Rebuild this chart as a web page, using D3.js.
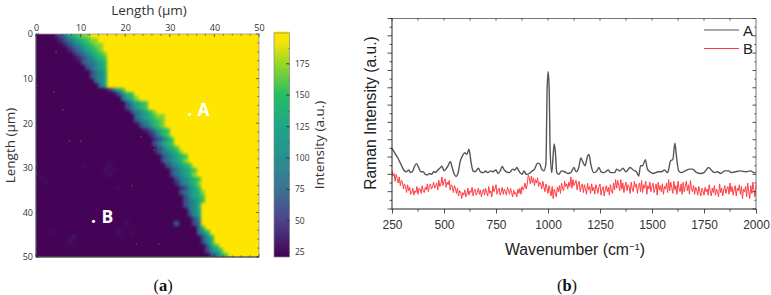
<!DOCTYPE html>
<html><head><meta charset="utf-8">
<script src="https://cdnjs.cloudflare.com/ajax/libs/d3/7.8.5/d3.min.js"></script>
<style>html,body{margin:0;padding:0;background:#fff;overflow:hidden}svg{display:block}</style>
</head><body><div id="chart"></div>
<script>
// ---------- Panel (a): map data, each row = [purple cells before the band, band codes]; yellow follows
const mapRows = [
[4,"12356788"],[5,"123456788"],[6,"123456788"],[7,"12345678"],[8,"12345678"],
[9,"1234567"],[10,"233456"],[11,"23456"],[12,"2345"],[12,"2345"],
[13,"345"],[14,"35"],[16,"1357"],[18,"2467"],[19,"3568"],
[20,"24567"],[20,"23567"],[21,"234568"],[22,"3456788"],[22,"2345678"],
[23,"234678"],[24,"123567"],[25,"12467"],[26,"12357"],[26,"23567"],
[27,"23567"],[27,"234568"],[28,"234567"],[28,"234568"],[29,"234567"],
[30,"234567"],[30,"234568"],[31,"234567"],[31,"134568"],[32,"12457"],
[32,"234568"],[33,"24567"],[33,"23457"],[33,"2346"],[34,"345"],
[34,"245"],[35,"24"],[35,"23"],[36,"36"],[36,"346"],
[37,"246"],[37,"246"],[38,"257"],[38,"2457"],[39,"2357"]
];
const mapLevels = [22,40,60,80,100,120,140,155,170,199];
const mapMax = 199;
const faintCells = [[15,30,29],[16,29,29],[17,30,29],[16,31,29],[0,31,29],[1,32,29],[2,33,27],[19,43,27],[20,42,27],[21,44,27],[18,44,27],[19,45,27],[8,45,33],[7,46,29],[8,47,27],[3,44,27],[18,34,27],[10,29,26],[31,42,70]];
const specks = [[4.5,4],[10.5,6],[4,13],[6,17],[7.5,24],[10,24],[23.5,23],[26.5,26],[21.5,34],[22.5,47],[27.5,47]];
const mapPoints = [["A",34.4,18],["B",12.9,42]];
const lengthTicks = [0,10,20,30,40,50];
const colorTicks = [25,50,75,100,125,150,175];
const rampValues = [21,50,75,100,125,150,175,192,199];
const rampColors = ["#440154","#433a85","#2f6a8e","#1f8b8c","#1ea886","#27bd63","#9ad826","#f6e40c","#ffe600"];

// ---------- Panel (b): spectra
const seriesA = [[250,3.5],[260,3.3],[270,3.1],[280,2.9],[290,2.65],[300,2.4],[310,2.2],[320,2.15],[330,2.25],[340,2.1],[350,2.2],[358,2.45],[368,2.62],[378,2.4],[388,2.15],[400,2.15],[410,2.0],[420,1.97],[430,2.05],[440,2.0],[450,2.15],[460,2.12],[470,2.25],[480,2.35],[490,2.47],[500,2.2],[510,2.32],[520,2.5],[530,2.75],[538,2.45],[548,2.05],[558,1.88],[568,2.1],[578,2.75],[590,3.1],[600,3.25],[610,3.15],[620,3.45],[630,2.7],[640,2.2],[650,2.15],[665,2.35],[675,2.15],[690,2.1],[700,2.2],[710,2.1],[725,2.2],[735,2.15],[750,2.25],[760,2.05],[770,2.2],[780,2.45],[790,2.25],[800,2.15],[815,2.1],[830,2.3],[840,2.25],[850,2.4],[860,2.2],[875,2.0],[885,2.2],[895,2.0],[910,2.05],[925,2.2],[935,2.3],[950,2.65],[960,2.6],[970,2.3],[980,2.2],[990,2.6],[996,7.0],[1001,7.93],[1006,6.8],[1010,3.5],[1018,2.1],[1024,3.0],[1030,3.75],[1036,3.2],[1042,2.1],[1052,2.0],[1065,2.2],[1080,2.15],[1095,2.05],[1110,2.1],[1125,2.4],[1135,2.15],[1148,2.4],[1158,2.95],[1168,2.7],[1178,2.5],[1190,3.05],[1197,3.15],[1207,2.5],[1220,2.1],[1235,2.2],[1245,2.4],[1255,2.15],[1270,2.1],[1290,2.25],[1300,2.1],[1320,2.1],[1330,2.3],[1345,2.2],[1360,2.35],[1375,2.15],[1395,2.4],[1410,2.25],[1425,2.15],[1436,1.9],[1445,2.5],[1455,2.5],[1468,2.85],[1478,2.3],[1490,2.15],[1505,2.05],[1530,2.15],[1545,2.15],[1560,2.25],[1575,2.1],[1590,2.8],[1600,2.85],[1610,3.8],[1618,3.0],[1628,2.2],[1640,2.1],[1660,2.2],[1680,2.3],[1695,2.3],[1715,2.1],[1735,2.05],[1750,2.1],[1772,2.4],[1785,2.25],[1800,2.1],[1815,2.15],[1830,2.05],[1850,2.2],[1870,2.2],[1880,2.1],[1900,2.15],[1925,2.2],[1950,2.15],[1975,2.2],[1990,2.1],[2000,2.1]];
const seriesBStart = 250, seriesBStep = 5;
const seriesB = [
2.2,1.9,2.05,1.6,2.0,1.75,1.5,1.85,1.35,1.65,1.55,1.15,1.45,1.3,.95,1.4,1.05,1.25,.85,.95,
1.2,.8,1.05,.95,1.3,.85,1.2,1.15,.9,1.35,1.05,.95,1.25,1.1,1.45,1.0,1.35,1.45,1.15,1.3,
1.55,1.2,1.35,1.5,1.1,1.65,1.3,1.45,1.85,1.35,1.6,1.75,1.25,1.55,1.4,1.65,1.1,1.4,1.3,.95,
1.35,1.2,.9,1.2,.75,1.05,1.0,.6,.95,.8,1.1,.7,.85,1.2,.8,1.05,.95,1.25,.75,1.05,
1.15,.8,.95,1.2,.85,1.1,.7,1.0,1.15,.8,1.2,.95,.75,1.3,.9,1.05,.7,1.35,1.0,1.15,
1.4,.85,1.1,1.2,.8,1.0,1.25,.85,1.15,1.0,.8,1.25,1.05,.85,1.2,.95,.7,1.1,.85,.95,
.7,1.15,.9,1.2,.85,1.3,1.1,1.25,1.5,1.15,1.4,1.95,1.8,1.45,1.9,1.5,1.8,1.35,1.7,1.5,
1.8,1.3,1.55,1.45,1.15,1.6,1.3,1.0,1.45,1.2,.9,1.35,1.05,.75,1.3,.6,1.15,.95,.7,1.25,
1.0,1.35,.9,1.5,1.2,1.05,1.6,1.3,1.45,1.15,1.55,1.3,1.85,1.2,1.7,1.35,1.5,1.65,1.1,1.45,
1.6,1.0,1.3,1.45,.95,1.4,1.15,.85,1.5,1.1,1.3,.9,1.45,1.05,1.25,.85,1.4,1.2,.9,1.3,
1.45,.8,1.15,1.3,.75,1.1,1.35,1.0,1.25,.8,1.4,1.05,.9,1.5,1.1,1.7,1.2,1.65,1.35,1.05,
1.7,1.15,1.5,.95,1.35,1.55,1.05,1.4,1.3,.9,1.55,1.15,1.0,1.6,1.25,1.45,.9,1.3,1.5,1.0,
1.65,.95,1.4,1.2,1.6,.85,1.35,1.15,1.55,1.0,1.3,1.5,.95,1.2,1.45,.8,1.55,1.1,1.35,1.0,
1.45,.85,1.3,1.15,1.5,.95,1.7,1.05,1.55,1.25,.9,1.6,1.1,1.35,.85,1.6,1.2,1.0,1.45,.85,
1.55,1.0,1.3,1.6,1.05,1.4,.85,1.65,1.2,1.0,1.35,.85,1.25,1.1,.8,1.3,1.0,.75,1.2,1.05,
.8,1.25,1.0,1.15,.8,1.4,1.05,.75,1.2,.95,1.35,.8,1.15,1.0,.7,1.45,.95,1.2,.75,1.1,
1.35,.9,1.15,1.3,.85,1.5,1.0,1.3,.8,1.1,1.35,.75,1.2,1.05,1.4,.85,1.3,.6,1.15,1.0,
1.3,.7,1.5,1.0,.6,1.35,.9,1.55,1.05,.7,1.4];
const wavenumberTicks = [250,500,750,1000,1250,1500,1750,2000];
const legendNames = ["A","B"];
const lineColors = ["#555555","#ff3c42"];

// ---------- Drawing
const W = 771, H = 295;
const svg = d3.select("#chart").append("svg").attr("width",W).attr("height",H);
const defs = svg.append("defs");
defs.append("filter").attr("id","mapBlur").attr("filterUnits","userSpaceOnUse").attr("x",20).attr("y",18).attr("width",256).attr("height",256)
  .attr("color-interpolation-filters","sRGB")
  .append("feGaussianBlur").attr("stdDeviation",1.8);
defs.append("filter").attr("id","soft").attr("filterUnits","userSpaceOnUse").attr("x",380).attr("y",10).attr("width",385).attr("height",210)
  .attr("color-interpolation-filters","sRGB")
  .append("feGaussianBlur").attr("stdDeviation",0.3);
defs.append("clipPath").attr("id","mapClip").append("rect").attr("x",36).attr("y",34).attr("width",223).attr("height",223);

const sans = "'Open Sans','Noto Sans',sans-serif", arial = "'Liberation Sans',Arial,sans-serif";
const textCol = "#333";

const mx = d3.scaleLinear().domain([0,50]).range([36,259]);
const my = d3.scaleLinear().domain([0,50]).range([34,257]);
const cScale = d3.scaleLinear().domain([21,199.5]).range([257,33]);
const colorOf = d3.scaleLinear().domain(rampValues).range(rampColors).clamp(true);

// grid lookup
const grid = mapRows.map(([n,band]) => d3.range(50).map(c => {
  if (c < n) return mapLevels[0];
  if (c < n+band.length) return mapLevels[+band[c-n]];
  return mapMax;
}));
faintCells.forEach(([c,r,v]) => { grid[r][c] = v; });

const clamp = (v) => Math.max(0,Math.min(49,v));
const mapG = svg.append("g").attr("clip-path","url(#mapClip)").append("g").attr("filter","url(#mapBlur)");
const cellIdx = [];
d3.range(-3,53).forEach(r => d3.range(-3,53).forEach(c => cellIdx.push([c,r])));
mapG.selectAll("rect").data(cellIdx).join("rect")
  .attr("shape-rendering","crispEdges")
  .attr("x",d=>mx(d[0])).attr("y",d=>my(d[1]))
  .attr("width",mx(1)-mx(0)+1).attr("height",my(1)-my(0)+1)
  .attr("fill",d=>colorOf(grid[clamp(d[1])][clamp(d[0])]));
svg.append("g").attr("clip-path","url(#mapClip)").selectAll("rect").data(specks).join("rect")
  .attr("x",d=>mx(d[0])-0.8).attr("y",d=>my(d[1])-0.8).attr("width",1.6).attr("height",1.6)
  .attr("fill","#b0604a").attr("opacity",0.5);

// map frame
svg.append("rect").attr("x",36).attr("y",34).attr("width",223).attr("height",223)
  .attr("fill","none").attr("stroke","#9a9aa2").attr("stroke-width",0.8);
svg.append("line").attr("x1",36).attr("x2",259).attr("y1",257).attr("y2",257).attr("stroke","#333").attr("stroke-width",1);
svg.append("line").attr("x1",36).attr("x2",36).attr("y1",34).attr("y2",257).attr("stroke","#333").attr("stroke-width",0.8);

function styleAxis(g,font,size){
  g.select(".domain").remove();
  g.selectAll("text").attr("font-family",font).attr("font-size",size).attr("fill",textCol);
  g.selectAll("line").attr("stroke","#222").attr("stroke-width",0.8);
}
const minorLen = d3.range(0,51,2);
const tk = svg.append("g").attr("opacity",0.75);
minorLen.forEach(v => {
  const L = v%10===0 ? 3 : 1.6;
  tk.append("line").attr("x1",mx(v)).attr("x2",mx(v)).attr("y1",34).attr("y2",34+L).attr("stroke","#222").attr("stroke-width",.8);
  tk.append("line").attr("x1",mx(v)).attr("x2",mx(v)).attr("y1",257).attr("y2",257-L).attr("stroke","#222").attr("stroke-width",.8);
  tk.append("line").attr("y1",my(v)).attr("y2",my(v)).attr("x1",36).attr("x2",36+L).attr("stroke","#222").attr("stroke-width",.8);
  tk.append("line").attr("y1",my(v)).attr("y2",my(v)).attr("x1",259).attr("x2",259-L).attr("stroke","#222").attr("stroke-width",.8);
});
const topAx = svg.append("g").attr("transform","translate(0,34)").call(d3.axisTop(mx).tickValues(lengthTicks).tickSize(0).tickPadding(3));
styleAxis(topAx,sans,9);
const leftAx = svg.append("g").attr("transform","translate(36,0)").call(d3.axisLeft(my).tickValues(lengthTicks).tickSize(0).tickPadding(3));
styleAxis(leftAx,sans,9);

svg.append("text").attr("x",149).attr("y",15).attr("text-anchor","middle").attr("font-family",sans).attr("font-size",13.5).attr("fill",textCol).text("Length (µm)");
svg.append("text").attr("transform","translate(14.5,145.5) rotate(-90)").attr("text-anchor","middle").attr("font-family",sans).attr("font-size",13.5).attr("fill",textCol).text("Length (µm)");

// point markers
const ptG = svg.append("g");
ptG.selectAll("circle").data(mapPoints).join("circle")
  .attr("cx",d=>mx(d[1])).attr("cy",d=>my(d[2])).attr("r",1.6).attr("fill","#fff");
ptG.selectAll("text").data(mapPoints).join("text")
  .attr("x",d=>mx(d[1])+8).attr("y",d=>my(d[2])+2)
  .attr("font-family",sans).attr("font-weight",700).attr("font-size",17.5).attr("fill","#fff").text(d=>d[0]);

// colour bar
const barVals = d3.range(21,199.5,0.8);
svg.append("g").selectAll("rect").data(barVals).join("rect")
  .attr("x",274).attr("width",15.5).attr("y",d=>cScale(d+0.8)-0.5).attr("height",d=>cScale(d)-cScale(d+0.8)+0.5)
  .attr("fill",d=>colorOf(d));
svg.append("rect").attr("x",274).attr("y",33).attr("width",15.5).attr("height",224).attr("fill","none").attr("stroke","#888").attr("stroke-width",0.7);
const cAx = svg.append("g").attr("transform","translate(289.5,0)").call(d3.axisRight(cScale).tickValues(colorTicks).tickSize(0).tickPadding(5.5));
styleAxis(cAx,sans,8.5);
colorTicks.forEach(v => svg.append("line").attr("x1",286).attr("x2",289.5).attr("y1",cScale(v)).attr("y2",cScale(v)).attr("stroke","#333").attr("stroke-width",.8));
d3.range(37,199,12.5).forEach(v => svg.append("line").attr("x1",287.8).attr("x2",289.5).attr("y1",cScale(v)).attr("y2",cScale(v)).attr("stroke","#333").attr("stroke-width",.6).attr("opacity",.6));
svg.append("text").attr("transform","translate(324,145) rotate(-90)").attr("text-anchor","middle").attr("font-family",sans).attr("font-size",13.5).attr("fill",textCol).text("Intensity (a.u.)");

// ---------- spectrum panel
const sx = d3.scaleLinear().domain([250,2000]).range([392,756]);
const sy = d3.scaleLinear().domain([0,11]).range([209,18.5]);
const lineGen = d3.line().x(d=>sx(d[0])).y(d=>sy(d[1]));
const smoothGen = d3.line().x(d=>sx(d[0])).y(d=>sy(d[1])).curve(d3.curveMonotoneX);
const bPairs = seriesB.map((v,i)=>[seriesBStart+i*seriesBStep,v]);
svg.append("path").datum(bPairs).attr("d",lineGen).attr("fill","none").attr("stroke",lineColors[1]).attr("stroke-width",1);
const specG = svg.append("g").attr("filter","url(#soft)");
specG.append("path").datum(seriesA).attr("d",smoothGen).attr("fill","none").attr("stroke",lineColors[0]).attr("stroke-width",1.4);

// frame
svg.append("line").attr("x1",392).attr("x2",756).attr("y1",18.5).attr("y2",18.5).attr("stroke","#777").attr("stroke-width",1);
svg.append("line").attr("x1",756).attr("x2",756).attr("y1",18.5).attr("y2",209).attr("stroke","#777").attr("stroke-width",1);
svg.append("line").attr("x1",392).attr("x2",392).attr("y1",18.5).attr("y2",209).attr("stroke","#222").attr("stroke-width",1);
svg.append("line").attr("x1",391.5).attr("x2",756).attr("y1",209).attr("y2",209).attr("stroke","#222").attr("stroke-width",1);

const bAx = svg.append("g").attr("transform","translate(0,209)").call(d3.axisBottom(sx).tickValues(wavenumberTicks).tickFormat(d3.format("d")).tickSize(4.5).tickPadding(7));
styleAxis(bAx,arial,12);
wavenumberTicks.slice(0,-1).forEach(v => {
  const m = v+125;
  svg.append("line").attr("x1",sx(m)).attr("x2",sx(m)).attr("y1",209).attr("y2",211.5).attr("stroke","#222").attr("stroke-width",.8);
  svg.append("line").attr("x1",sx(m)).attr("x2",sx(m)).attr("y1",18.5).attr("y2",20.5).attr("stroke","#222").attr("stroke-width",.8);
  svg.append("line").attr("x1",sx(v)).attr("x2",sx(v)).attr("y1",18.5).attr("y2",20.5).attr("stroke","#222").attr("stroke-width",.8);
});
d3.range(0,11.01,0.5).forEach(v => {
  const L = Number.isInteger(v) ? 4.5 : 2.5;
  svg.append("line").attr("x1",392-L).attr("x2",392).attr("y1",sy(v)).attr("y2",sy(v)).attr("stroke","#222").attr("stroke-width",.8);
  svg.append("line").attr("x1",756-(L-1)).attr("x2",756).attr("y1",sy(v)).attr("y2",sy(v)).attr("stroke","#222").attr("stroke-width",.8);
});

svg.append("text").attr("transform","translate(376,113) rotate(-90)").attr("text-anchor","middle").attr("font-family",arial).attr("font-size",15.6).attr("fill","#222").text("Raman Intensity (a.u.)");
const xt = svg.append("text").attr("x",575).attr("y",255).attr("text-anchor","middle").attr("font-family",arial).attr("font-size",15.8).attr("fill","#222");
xt.append("tspan").text("Wavenumber (cm");
xt.append("tspan").attr("dy",-5.5).attr("font-size",9.5).text("−1");
xt.append("tspan").attr("dy",5.5).text(")");

// legend
legendNames.forEach((n,i) => {
  const y = 30 + i*18.5;
  svg.append("line").attr("x1",704).attr("x2",739).attr("y1",y).attr("y2",y).attr("stroke",lineColors[i]).attr("stroke-width",1.2);
  svg.append("text").attr("x",743).attr("y",y+5.5).attr("font-family",arial).attr("font-size",15).attr("fill","#222").text(n);
});

// captions
[["a",163],["b",567]].forEach(([n,x]) => {
  const t = svg.append("text").attr("x",x).attr("y",291).attr("text-anchor","middle").attr("font-family","'Liberation Serif',serif").attr("font-size",16.5).attr("fill","#111");
  t.append("tspan").text("(");
  t.append("tspan").attr("font-weight",700).text(n);
  t.append("tspan").text(")");
});
</script></body></html>
